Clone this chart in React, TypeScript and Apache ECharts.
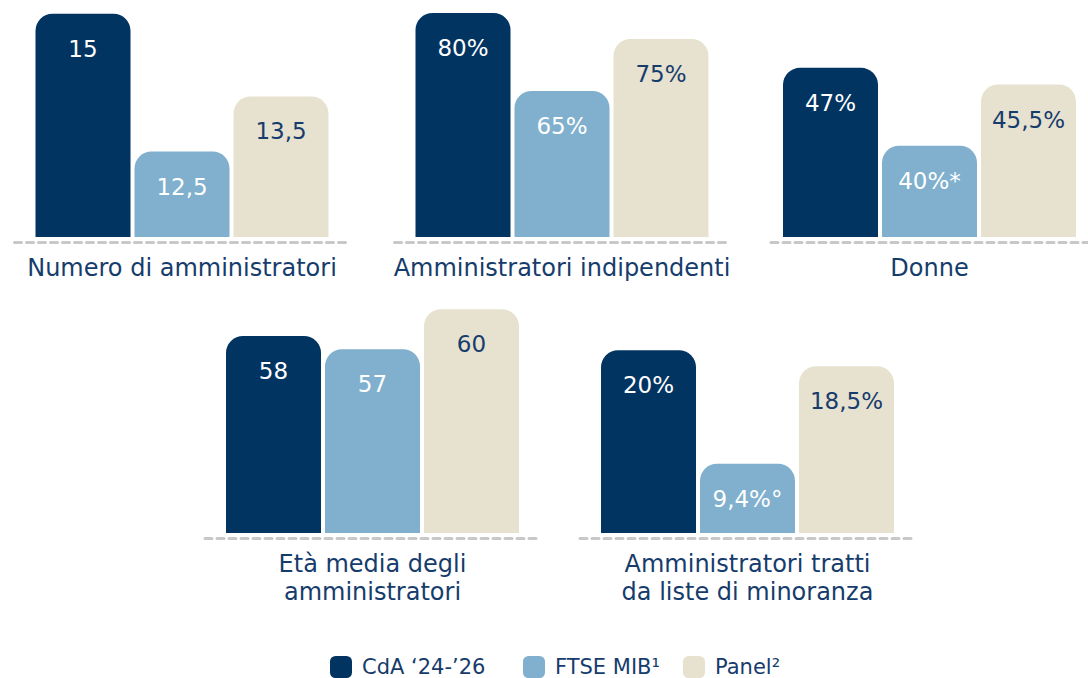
import React, { useEffect, useRef } from "react";
import * as echarts from "echarts";

const categories = [
  "Numero di amministratori",
  "Amministratori indipendenti",
  "Donne",
  "Età media degli\namministratori",
  "Amministratori tratti\nda liste di minoranza",
];
const seriesNames = ["CdA ‘24-’26", "FTSE MIB¹", "Panel²"];
const cdaValues = [15, 80, 47, 58, 20];
const ftseValues = [12.5, 65, 40, 57, 9.4];
const panelValues = [13.5, 75, 45.5, 60, 18.5];
const units = ["", "%", "%", "", "%"];
const ftseNotes = ["", "", "*", "", "°"];
const axisMin = [10.95, 36.9, 31.8, 43.2, 2.93];
const axisMax = [15.25, 82.5, 53.1, 61, 25.06];

const COLORS = ["#023462", "#80B0CD", "#E7E2D0"];
const LABEL_COLORS = ["#ffffff", "#ffffff", "#163C6C"];
const NAVY = "#163C6C";
const FONT = "'DejaVu Sans', sans-serif";

// layout: bar-group centers and row geometry
const centers = [182, 562, 938.5, 372.5, 747.5];
const rowTop = [0, 0, 0, 296, 296];
const GRID_W = 335;
const GRID_H = 237;

export default function App() {
  const ref = useRef<HTMLDivElement>(null);
  useEffect(() => {
    if (!ref.current) return;
    const chart = echarts.init(ref.current, undefined, { renderer: "svg" });
    const grids: any[] = [];
    const xAxes: any[] = [];
    const yAxes: any[] = [];
    const series: any[] = [];
    const allValues = [cdaValues, ftseValues, panelValues];
    categories.forEach((cat, i) => {
      grids.push({
        left: centers[i] - GRID_W / 2,
        top: rowTop[i],
        width: GRID_W,
        height: GRID_H,
        containLabel: false,
      });
      xAxes.push({
        type: "category",
        gridIndex: i,
        data: [cat],
        offset: 5,
        axisTick: { show: false },
        axisLine: {
          show: true,
          lineStyle: { color: "#C8C8C8", width: 3, type: [7, 5] },
        },
        axisLabel: {
          color: NAVY,
          fontSize: 24,
          lineHeight: 28,
          margin: 12,
          fontFamily: FONT,
          interval: 0,
        },
      });
      yAxes.push({
        type: "value",
        gridIndex: i,
        min: axisMin[i],
        max: axisMax[i],
        show: false,
        splitLine: { show: false },
      });
      allValues.forEach((vals, s) => {
        series.push({
          type: "bar",
          name: seriesNames[s],
          xAxisIndex: i,
          yAxisIndex: i,
          data: [vals[i]],
          barWidth: 95,
          barGap: "4.2%",
          itemStyle: { color: COLORS[s], borderRadius: [17, 17, 0, 0] },
          label: {
            show: true,
            position: "insideTop",
            distance: 23,
            color: LABEL_COLORS[s],
            fontSize: 23,
            lineHeight: 24,
            fontFamily: FONT,
            formatter: (p: any) =>
              String(p.value).replace(".", ",") +
              units[i] +
              (s === 1 ? ftseNotes[i] : ""),
          },
        });
      });
    });
    const legendLeft = [330, 523, 683];
    const legends = seriesNames.map((n, k) => ({
      data: [n],
      left: legendLeft[k],
      top: 656,
      padding: 0,
      icon: "roundRect",
      itemWidth: 22,
      itemHeight: 22,
      textStyle: {
        color: NAVY,
        fontSize: 21,
        fontFamily: FONT,
        padding: [0, 0, 0, 5],
      },
      selectedMode: false,
    }));
    chart.setOption({
      animation: false,
      backgroundColor: "#ffffff",
      textStyle: { fontFamily: FONT },
      grid: grids,
      xAxis: xAxes,
      yAxis: yAxes,
      legend: legends,
      series,
    });
    return () => chart.dispose();
  }, []);
  return (
    <div
      ref={ref}
      style={{ position: "absolute", left: 0, top: 0, width: 1088, height: 678 }}
    />
  );
}
